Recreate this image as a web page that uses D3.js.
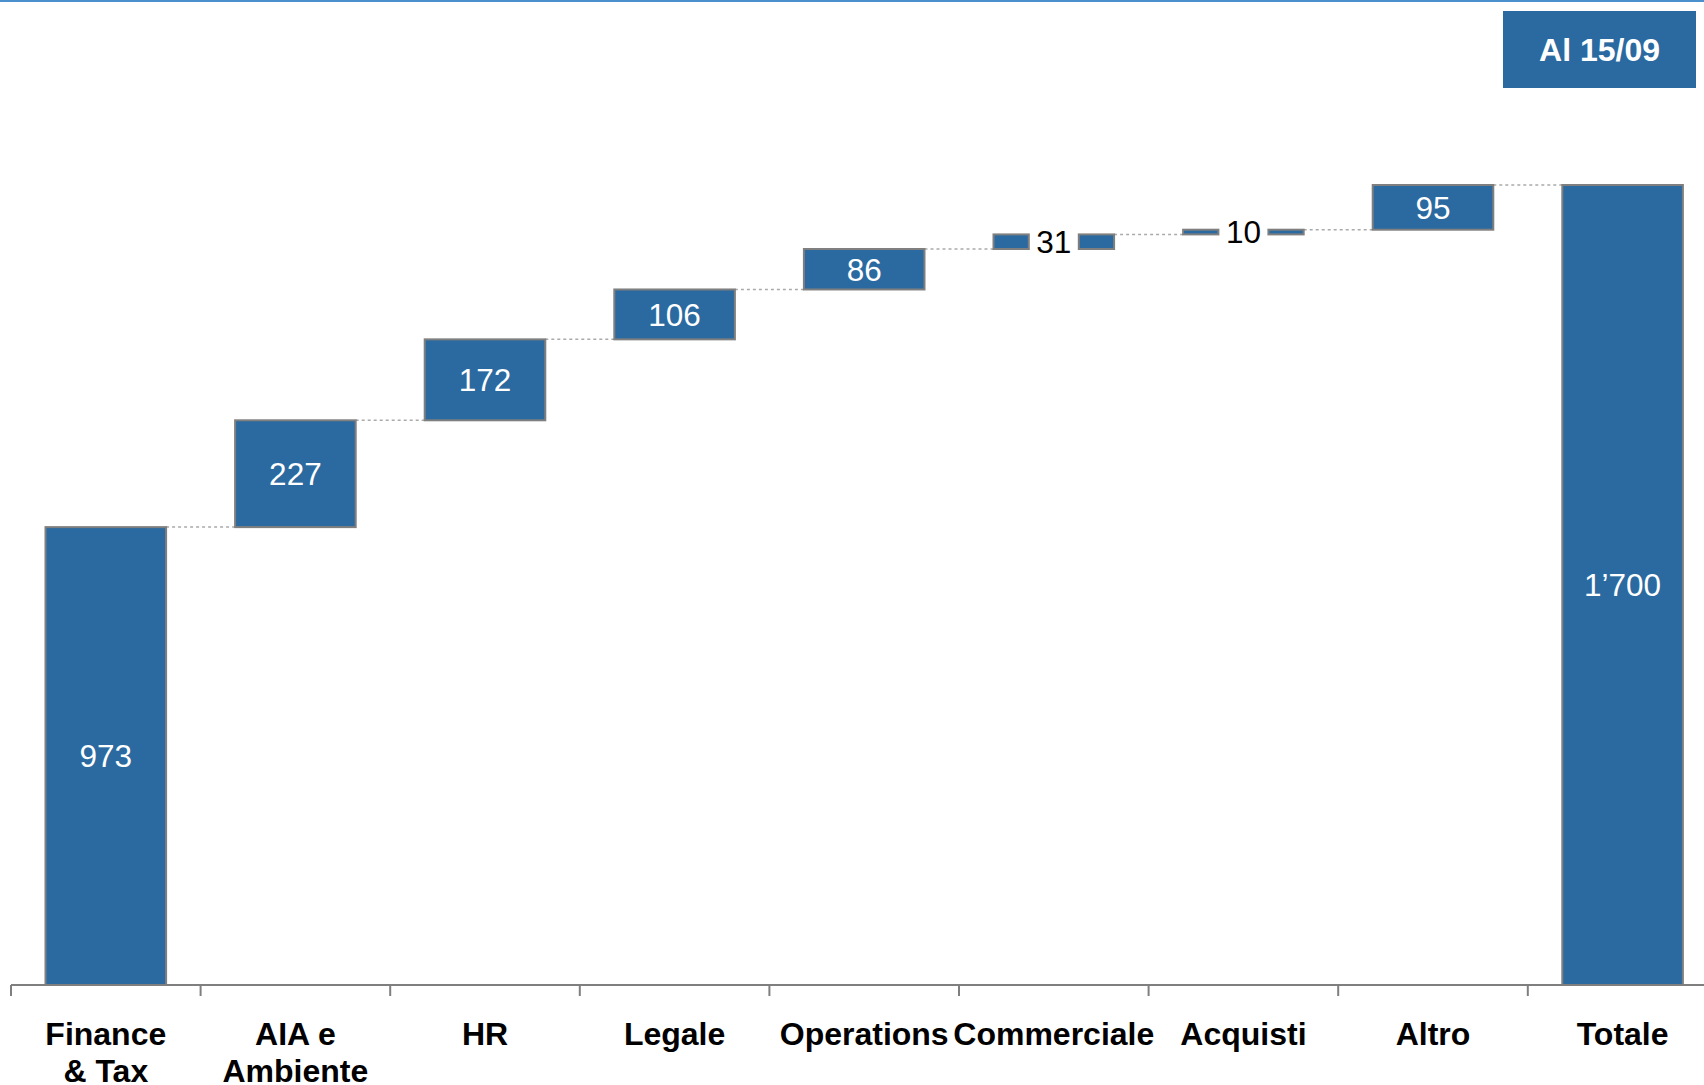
<!DOCTYPE html>
<html>
<head>
<meta charset="utf-8">
<script src="https://cdn.jsdelivr.net/npm/d3@7"></script>
<style>
  html, body { margin: 0; padding: 0; background: #fff; }
  svg { display: block; font-family: "Liberation Sans", Arial, sans-serif; }
</style>
</head>
<body>
<svg id="chart"></svg>
<script>
const categories = ["Finance\n& Tax", "AIA e\nAmbiente", "HR", "Legale", "Operations", "Commerciale", "Acquisti", "Altro", "Totale"];
const values = [973, 227, 172, 106, 86, 31, 10, 95, 1700];
const valueLabels = ["973", "227", "172", "106", "86", "31", "10", "95", "1’700"];
const totalIndex = 8;
const dateLabel = "Al 15/09";

const width = 1704, height = 1085;
const svg = d3.select("#chart").attr("width", width).attr("height", height);

const blue = "#2a6aa0";
const edge = "#7f7f7f";

// running totals -> [start, end] for each step
let acc = 0;
const steps = values.map((v, i) => {
  if (i === totalIndex) return { i, v, y0: 0, y1: v };
  const s = { i, v, y0: acc, y1: acc + v };
  acc += v;
  return s;
});

const x = d3.scaleBand().domain(d3.range(categories.length)).range([11, 11 + 9 * 189.6]);
const y = d3.scaleLinear().domain([0, 1700]).range([985, 185]);
const barW = x.bandwidth() * 0.636;
const barX = i => x(i) + (x.bandwidth() - barW) / 2;
const gap = 50; // room for the label inside thin bars

// top rule
svg.append("rect").attr("x", 0).attr("y", 0).attr("width", width).attr("height", 2).attr("fill", "#4a90cc");

// date badge
const badge = svg.append("g").attr("transform", "translate(1503,11)");
badge.append("rect").attr("width", 193).attr("height", 77).attr("fill", blue);
badge.append("text").attr("x", 96.5).attr("y", 50).attr("text-anchor", "middle")
  .attr("fill", "#fff").attr("font-size", 32).attr("font-weight", "bold").text(dateLabel);

// connectors
svg.append("g")
  .attr("stroke", "#aaa").attr("stroke-width", 1.5).attr("stroke-dasharray", "3,3")
  .selectAll("line")
  .data(steps.slice(0, -1))
  .join("line")
  .attr("x1", d => barX(d.i) + barW)
  .attr("x2", d => barX(d.i + 1))
  .attr("y1", d => y(d.y1))
  .attr("y2", d => y(d.y1));

const isSmall = d => y(d.y0) - y(d.y1) < 30;

// bars (thin ones get split in two around their label)
const pieces = steps.flatMap(d => isSmall(d)
  ? [{ d, x0: barX(d.i), w: (barW - gap) / 2 }, { d, x0: barX(d.i) + (barW + gap) / 2, w: (barW - gap) / 2 }]
  : [{ d, x0: barX(d.i), w: barW }]);

svg.append("g")
  .selectAll("rect")
  .data(pieces)
  .join("rect")
  .attr("x", p => p.x0)
  .attr("width", p => p.w)
  .attr("y", p => y(p.d.y1))
  .attr("height", p => y(p.d.y0) - y(p.d.y1))
  .attr("fill", blue)
  .attr("stroke", edge)
  .attr("stroke-width", 2);

// value labels
svg.append("g").attr("font-size", 31.5).attr("text-anchor", "middle")
  .selectAll("text")
  .data(steps)
  .join("text")
  .attr("x", d => barX(d.i) + barW / 2)
  .attr("y", d => (y(d.y0) + y(d.y1)) / 2)
  .attr("dy", "0.36em")
  .attr("fill", d => isSmall(d) ? "#000" : "#fff")
  .text(d => valueLabels[d.i]);

// axis
const axis = svg.append("g").attr("stroke", edge).attr("stroke-width", 2);
axis.append("line").attr("x1", 11).attr("x2", width).attr("y1", 985).attr("y2", 985);
axis.selectAll("line.tick")
  .data(d3.range(categories.length))
  .join("line")
  .attr("class", "tick")
  .attr("x1", i => x(i)).attr("x2", i => x(i))
  .attr("y1", 985).attr("y2", 996);

const cat = svg.append("g").attr("font-size", 32).attr("font-weight", "bold").attr("text-anchor", "middle");
categories.forEach((c, i) => {
  const cx = x(i) + x.bandwidth() / 2;
  const t = cat.append("text").attr("x", cx).attr("y", 1045);
  c.split("\n").forEach((line, k) => {
    t.append("tspan").attr("x", cx).attr("dy", k ? 37 : 0).text(line);
  });
});
</script>
</body>
</html>
